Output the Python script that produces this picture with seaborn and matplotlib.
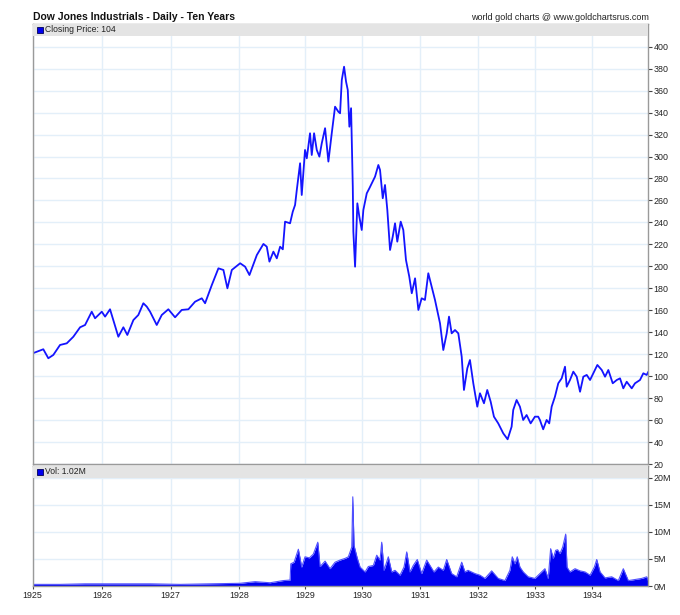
import numpy as np
import pandas as pd
import matplotlib
matplotlib.use("Agg")
import matplotlib.pyplot as plt
import seaborn as sns
from matplotlib.patches import Rectangle

# ---------------- data ----------------
years = list(range(1925, 1936))
trading_days = [303, 300, 300, 288, 249, 253, 252, 250, 247, 247]
year_labels = [str(y) for y in range(1925, 1935)]

price_t = [1925.000, 1925.153, 1925.225, 1925.297, 1925.394, 1925.491, 1925.586, 1925.683,
           1925.755, 1925.851, 1925.899, 1925.996, 1926.044, 1926.116, 1926.164, 1926.237,
           1926.310, 1926.368, 1926.456, 1926.528, 1926.601, 1926.651, 1926.699, 1926.796,
           1926.869, 1926.965, 1927.063, 1927.160, 1927.257, 1927.354, 1927.452, 1927.500,
           1927.598, 1927.694, 1927.767, 1927.825, 1927.889, 1928.011, 1928.086, 1928.152,
           1928.264, 1928.364, 1928.415, 1928.455, 1928.515, 1928.567, 1928.617, 1928.658,
           1928.692, 1928.768, 1928.809, 1928.844, 1928.870, 1928.920, 1928.945, 1928.995,
           1929.025, 1929.082, 1929.112, 1929.153, 1929.200, 1929.246, 1929.288, 1929.346,
           1929.404, 1929.463, 1929.521, 1929.579, 1929.609, 1929.639, 1929.679, 1929.714,
           1929.744, 1929.772, 1929.802, 1929.832, 1929.842, 1929.872, 1929.912, 1929.947,
           1929.989, 1930.017, 1930.076, 1930.121, 1930.162, 1930.219, 1930.276, 1930.305,
           1930.352, 1930.391, 1930.431, 1930.478, 1930.524, 1930.564, 1930.603, 1930.662,
           1930.707, 1930.753, 1930.810, 1930.853, 1930.910, 1930.967, 1931.024, 1931.081,
           1931.139, 1931.198, 1931.255, 1931.342, 1931.399, 1931.458, 1931.498, 1931.544,
           1931.602, 1931.659, 1931.718, 1931.757, 1931.815, 1931.861, 1931.919, 1931.988,
           1932.035, 1932.105, 1932.162, 1932.222, 1932.279, 1932.354, 1932.442, 1932.518,
           1932.588, 1932.616, 1932.675, 1932.733, 1932.790, 1932.850, 1932.920, 1932.995,
           1933.053, 1933.083, 1933.141, 1933.202, 1933.248, 1933.291, 1933.349, 1933.408,
           1933.468, 1933.527, 1933.557, 1933.615, 1933.674, 1933.734, 1933.793, 1933.851,
           1933.911, 1933.970, 1934.028, 1934.099, 1934.177, 1934.235, 1934.293, 1934.371,
           1934.442, 1934.500, 1934.558, 1934.618, 1934.707, 1934.765, 1934.853, 1934.912,
           1934.972, 1935.000]
price = [120.8, 124.5, 116.3, 119.3, 128.4, 129.9, 135.9, 144.5,
         146.6, 158.7, 152.7, 158.7, 154.2, 160.9, 151.1, 135.9,
         144.5, 137.5, 151.1, 155.7, 166.4, 163.3, 158.7, 146.6,
         155.7, 160.9, 153.6, 160.3, 160.9, 167.8, 170.9, 166.4,
         183.0, 198.2, 196.7, 180.0, 196.7, 202.8, 199.7, 192.1,
         210.3, 220.4, 217.9, 204.3, 213.4, 207.3, 217.9, 215.5,
         240.7, 239.2, 249.8, 255.9, 269.5, 293.9, 265.0, 306.0,
         298.4, 321.2, 301.4, 321.2, 306.0, 299.9, 312.1, 325.8,
         295.4, 321.2, 345.4, 340.8, 339.4, 369.7, 381.8, 368.2,
         360.6, 327.2, 344.0, 272.5, 231.6, 199.7, 257.4, 245.2,
         233.1, 251.3, 266.5, 271.1, 275.6, 281.7, 292.3, 287.8,
         262.0, 274.1, 251.3, 214.9, 227.0, 239.2, 222.5, 240.7,
         233.1, 205.8, 190.6, 175.5, 189.1, 160.3, 170.9, 169.4,
         193.7, 181.5, 169.4, 148.1, 123.8, 139.0, 154.2, 139.0,
         142.0, 139.0, 117.7, 87.4, 107.1, 114.7, 93.5, 72.2,
         84.4, 75.3, 87.4, 76.7, 63.1, 57.0, 47.9, 42.5,
         54.0, 69.2, 78.3, 72.2, 60.1, 64.6, 57.0, 63.1,
         63.1, 60.1, 51.6, 60.1, 57.0, 72.2, 81.3, 93.5,
         98.0, 108.6, 90.4, 96.5, 104.1, 99.5, 85.8, 99.5,
         101.1, 96.5, 102.6, 110.2, 105.6, 99.5, 105.6, 93.5,
         96.5, 98.0, 88.9, 94.9, 88.9, 93.5, 96.5, 102.6,
         101.1, 104.0]

vol_t = [1925.000, 1925.394, 1925.755, 1926.262, 1926.699, 1927.136, 1927.573, 1928.011,
         1928.238, 1928.465, 1928.662, 1928.768, 1928.779, 1928.829, 1928.894, 1928.945,
         1928.995, 1929.070, 1929.140, 1929.218, 1929.258, 1929.346, 1929.433, 1929.521,
         1929.609, 1929.696, 1929.754, 1929.814, 1929.832, 1929.854, 1929.912, 1929.960,
         1930.047, 1930.103, 1930.190, 1930.248, 1930.305, 1930.334, 1930.374, 1930.448,
         1930.507, 1930.564, 1930.650, 1930.719, 1930.766, 1930.822, 1930.879, 1930.948,
         1931.024, 1931.111, 1931.168, 1931.237, 1931.312, 1931.399, 1931.458, 1931.544,
         1931.631, 1931.718, 1931.775, 1931.827, 1931.948, 1932.035, 1932.122, 1932.239,
         1932.354, 1932.471, 1932.558, 1932.599, 1932.646, 1932.686, 1932.733, 1932.791,
         1932.878, 1932.995, 1933.172, 1933.230, 1933.273, 1933.319, 1933.362, 1933.397,
         1933.438, 1933.486, 1933.539, 1933.562, 1933.615, 1933.704, 1933.793, 1933.881,
         1933.970, 1934.046, 1934.088, 1934.147, 1934.235, 1934.353, 1934.470, 1934.558,
         1934.647, 1934.765, 1934.883, 1934.972, 1935.000]
vol = [0.3, 0.3, 0.4, 0.4, 0.4, 0.3, 0.4, 0.5,
       0.8, 0.6, 1.0, 1.1, 4.1, 4.4, 6.8, 3.5,
       5.4, 5.2, 5.9, 8.1, 3.6, 4.6, 3.2, 4.4,
       4.8, 5.1, 5.4, 7.2, 16.5, 7.5, 5.1, 3.5,
       2.6, 3.6, 3.8, 5.7, 4.8, 8.1, 2.9, 5.4,
       2.6, 2.9, 2.0, 3.5, 6.3, 2.6, 3.8, 4.9,
       2.3, 4.8, 3.8, 2.6, 3.5, 2.9, 4.9, 2.3,
       1.7, 4.4, 2.6, 2.9, 2.3, 2.0, 1.4, 2.8,
       1.4, 1.0, 2.9, 5.4, 4.1, 5.4, 3.5, 2.6,
       1.7, 1.4, 3.2, 1.4, 6.9, 5.1, 6.6, 6.7,
       6.0, 7.2, 9.6, 3.5, 2.6, 3.2, 2.8, 2.6,
       2.0, 3.5, 4.9, 2.6, 1.5, 1.7, 1.0, 3.2,
       1.0, 1.2, 1.4, 1.7, 1.0]

price_ticks = list(range(20, 401, 20))
vol_ticks = [0, 5, 10, 15, 20]

# ---------------- style ----------------
sns.set_theme(style="white")
plt.rcParams["font.family"] = ["Liberation Sans", "DejaVu Sans"]

BLUE = "#1414ff"
GRID = "#e3eff9"
FRAME = "#9a9a9a"
BAND = "#e4e4e4"

fig = plt.figure(figsize=(6.8, 6.15), dpi=100)
L, W = 32.7 / 680, (648.3 - 32.7) / 680
ax1 = fig.add_axes([L, (615 - 464) / 615, W, (464 - 24) / 615])
ax2 = fig.add_axes([L, (615 - 586) / 615, W, (586 - 466) / 615])

df_p = pd.DataFrame({"t": price_t, "price": price})
df_v = pd.DataFrame({"t": vol_t, "vol": vol})

sns.lineplot(data=df_p, x="t", y="price", ax=ax1, color=BLUE, lw=1.3,
             estimator=None, sort=False)
ax2.fill_between(df_v["t"], 0, df_v["vol"], color="#0000f0", lw=0, zorder=2)
sns.lineplot(data=df_v, x="t", y="vol", ax=ax2, color="#5050ff", lw=0.8,
             estimator=None, sort=False, zorder=2.5)

edges = np.array(years, dtype=float)
cum = np.concatenate([[0.0], np.cumsum(trading_days)])
fwd = lambda x: np.interp(x, edges, cum)
inv = lambda d: np.interp(d, cum, edges)

for ax in (ax1, ax2):
    ax.set_xscale("function", functions=(fwd, inv))
    ax.set_xlim(1925, 1935)
    ax.set_xticks(range(1925, 1935))
    ax.set_xlabel("")
    ax.set_ylabel("")
    ax.grid(True, color=GRID, lw=1.0, zorder=0)
    ax.set_axisbelow(True)
    for s in ax.spines.values():
        s.set_color(FRAME)
        s.set_linewidth(1.0)
    ax.yaxis.tick_right()
    ax.tick_params(axis="y", which="both", direction="out", length=3, width=0.8,
                   color="#444444", labelsize=6.4, labelcolor="#222222", pad=0.8,
                   left=False, right=True)

ax1.set_ylim(20, 420.7)
ax1.set_yticks(price_ticks)
ax1.set_yticklabels([str(v) for v in price_ticks])
ax1.tick_params(axis="x", bottom=False, labelbottom=False)

ax2.set_ylim(0, 22.2)
ax2.set_yticks(vol_ticks)
ax2.set_yticklabels([f"{v}M" for v in vol_ticks])
ax2.set_xticklabels(year_labels)
ax2.tick_params(axis="x", direction="out", length=2, width=0.8, color="#444444",
                labelsize=6.4, labelcolor="#222222", pad=1.5, bottom=True)

# header bands with legend entries
for ax, frac, label in ((ax1, 12 / 440, f"Closing Price: {price[-1]:.0f}"),
                        (ax2, 11.5 / 120, "Vol: 1.02M")):
    ax.add_patch(Rectangle((0, 1 - frac), 1, frac, transform=ax.transAxes,
                           facecolor=BAND, edgecolor="none", zorder=3, clip_on=False))
    ph = ax.bbox.height
    pw = ax.bbox.width
    ax.add_patch(Rectangle((4 / pw, 1 - (frac * ph - 3) / ph), 6 / pw, (frac * ph - 6) / ph,
                           transform=ax.transAxes, facecolor="#0000ee",
                           edgecolor="#000055", lw=0.6, zorder=4, clip_on=False))
    ax.text(12 / pw, 1 - frac / 2, label, transform=ax.transAxes, ha="left",
            va="center", fontsize=6.2, color="#222222", zorder=5)

fig.text(33 / 680, 1 - 20 / 615, "Dow Jones Industrials - Daily - Ten Years",
         ha="left", va="baseline", fontsize=7.5, fontweight="bold", color="#111111")
fig.text(648.5 / 680, 1 - 20 / 615, "world gold charts @ www.goldchartsrus.com",
         ha="right", va="baseline", fontsize=6.5, color="#222222")

fig.savefig("out.png", dpi=100)
